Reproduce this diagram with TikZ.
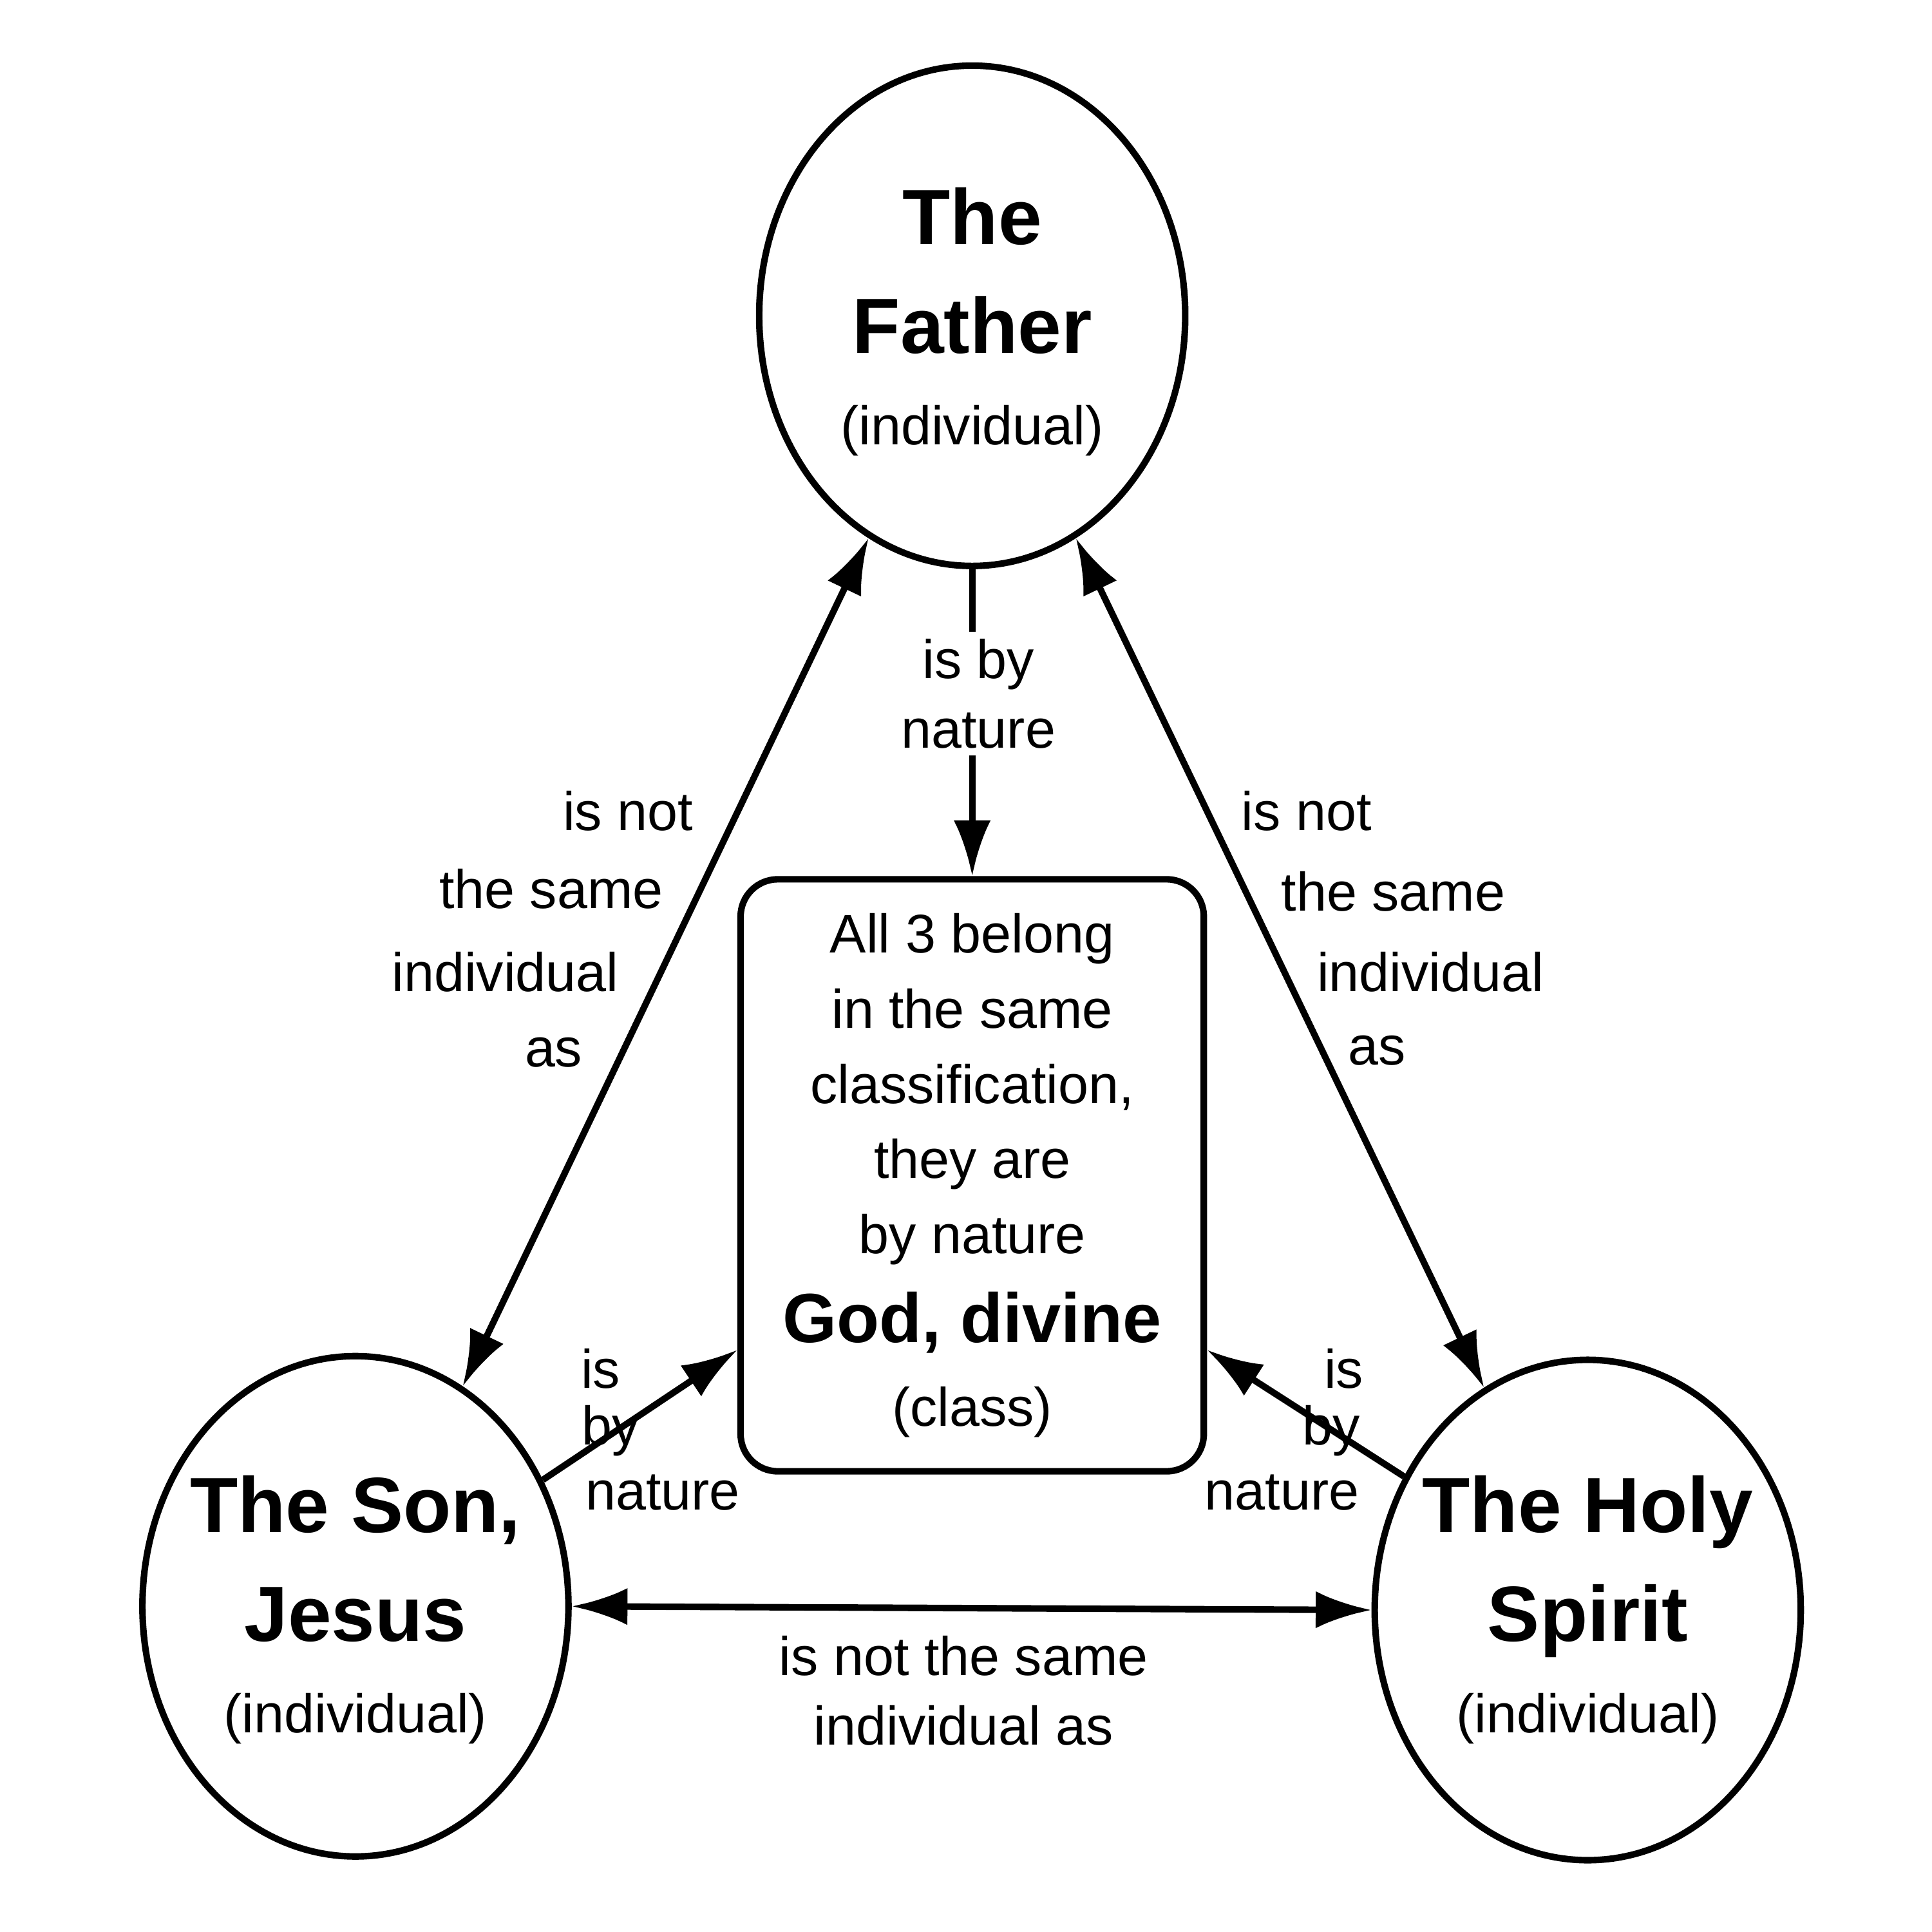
\documentclass[tikz,border=0pt]{standalone}
\usepackage{fontspec}
\setmainfont{Liberation Sans}
\usetikzlibrary{shapes.geometric,arrows.meta}
\tikzset{
  person/.style={ellipse, draw, line width=1.5pt, minimum width=3.44cm, minimum height=4.04cm, inner sep=0pt},
  persontxt/.style={align=center, inner sep=0pt, font=\fontsize{18}{25}\selectfont\bfseries},
  classbox/.style={draw, line width=1.5pt, rounded corners=0.3cm, minimum width=3.74cm, minimum height=4.78cm, align=center, inner sep=0pt},
  rel/.style={line width=1.5pt, -{Latex[length=0.45cm,width=0.3cm]}},
  relboth/.style={line width=1.5pt, {Latex[length=0.45cm,width=0.3cm]}-{Latex[length=0.45cm,width=0.3cm]}},
  lbl/.style={font=\fontsize{12.5}{16}\selectfont, inner sep=1pt},
}
\newcommand{\smalltag}{\fontsize{12.5}{16}\selectfont\mdseries(individual)}
\begin{document}
\begin{tikzpicture}
\useasboundingbox (0,0) rectangle (15.6,-15.6);
% personen
\node[person] (father) at (7.85,-2.55) {};
\node[person] (son) at (2.87,-12.97) {};
\node[person] (spirit) at (12.82,-13.0) {};
\node[persontxt] (fathertxt) at (7.85,-2.6) {The\\Father\\[-4pt]\smalltag};
\node[persontxt] (sontxt) at (2.87,-13.0) {The Son,\\Jesus\\[-4pt]\smalltag};
\node[persontxt] (spirittxt) at (12.82,-13.0) {The Holy\\Spirit\\[-4pt]\smalltag};
% klasse
\node[classbox, font=\fontsize{12.5}{17.3}\selectfont] (god) at (7.85,-9.49) {All 3 belong\\in the same\\classification,\\they are\\by nature\\[3pt]{\fontsize{16}{20}\selectfont\bfseries God, divine}\\[2pt](class)};
% pijlen
\draw[relboth] (father.245) -- (son.64);
\draw[relboth] (father.295) -- (spirit.115);
\draw[relboth] (son.east) -- (spirit.west);
\draw[line width=1.5pt] (father.south) -- (7.85,-5.1);
\draw[rel] (7.85,-6.1) -- (god.north);
\draw[rel] (son.34) -- ([yshift=-1.41cm]god.west);
\draw[rel] (spirit.144) -- ([yshift=-1.41cm]god.east);
% labels
\node[lbl, align=center] (lblfg) at (7.9,-5.6) {is by\\nature};
\node[lbl] at (5.07,-6.55) {is not};
\node[lbl] at (4.45,-7.18) {the same};
\node[lbl] at (4.08,-7.85) {individual};
\node[lbl] at (4.47,-8.5) {as};
\node[lbl] at (10.55,-6.55) {is not};
\node[lbl] at (11.25,-7.2) {the same};
\node[lbl] at (11.55,-7.85) {individual};
\node[lbl] at (11.12,-8.48) {as};
\node[lbl, align=center] at (7.78,-13.65) {is not the same\\individual as};
\node[lbl] at (4.85,-11.05) {is};
\node[lbl] at (4.93,-11.55) {by};
\node[lbl] at (5.35,-12.05) {nature};
\node[lbl] at (10.85,-11.05) {is};
\node[lbl] at (10.75,-11.55) {by};
\node[lbl] at (10.35,-12.05) {nature};
\end{tikzpicture}
\end{document}
